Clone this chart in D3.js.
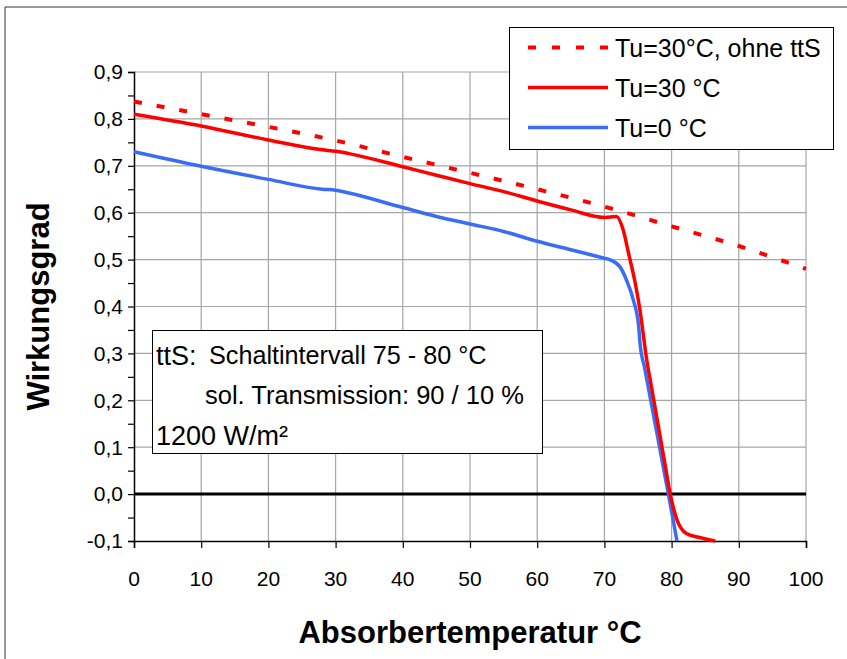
<!DOCTYPE html>
<html><head><meta charset="utf-8">
<script src="https://cdn.jsdelivr.net/npm/d3@7"></script>
<style>
html,body{margin:0;padding:0;background:#fff;}
text{font-family:"Liberation Sans",Arial,sans-serif;fill:#000;}
</style></head>
<body>
<svg id="chart" width="847" height="659"></svg>
<script>
// ---- data ----
const xTickValues = [0,10,20,30,40,50,60,70,80,90,100];
const xTickLabels = ["0","10","20","30","40","50","60","70","80","90","100"];
const yTickValues = [-0.1,0,0.1,0.2,0.3,0.4,0.5,0.6,0.7,0.8,0.9];
const yTickLabels = ["-0,1","0,0","0,1","0,2","0,3","0,4","0,5","0,6","0,7","0,8","0,9"];

const seriesNames = ["Tu=30°C, ohne ttS","Tu=30 °C","Tu=0 °C"];

const dashedT = [0,10,20,30,40,50,60,70,80,90,100];
const dashedEta = [0.837,0.810,0.783,0.754,0.719,0.685,0.650,0.613,0.571,0.529,0.480];

const red30T = [0,10,20,28,30,32,40,45,50,55,60,65,70,71.8,72.8,73.6,74.6,75.3,76.3,77,78,79,79.8,80.8,82.2,84,86.5];
const red30Eta = [0.810,0.785,0.755,0.734,0.731,0.726,0.698,0.680,0.662,0.645,0.625,0.606,0.590,0.592,0.563,0.513,0.449,0.392,0.286,0.229,0.147,0.065,0.0,-0.055,-0.084,-0.092,-0.100];

const blue0T = [0,10,20,28,30,32,40,45,50,55,60,65,70,70.8,72.3,73.3,74.3,75.1,75.3,76,77,78,79,79.5,80.8];
const blue0Eta = [0.730,0.699,0.671,0.650,0.648,0.642,0.611,0.592,0.576,0.560,0.539,0.521,0.503,0.500,0.485,0.456,0.414,0.357,0.322,0.268,0.192,0.116,0.040,0.002,-0.100];

const annotation = {l1a:"ttS:", l1b:"Schaltintervall 75 - 80 °C", l2:"sol. Transmission: 90 / 10 %", l3:"1200 W/m²"};

// ---- layout ----
const svg = d3.select("#chart");
const L=134, R=806, T=72, B=541;
const x = d3.scaleLinear().domain([0,100]).range([L,R]);
const y = d3.scaleLinear().domain([-0.1,0.9]).range([B,T]);

// outer frame (top & left visible)
svg.append("path").attr("d","M5,659 V7 H847").attr("fill","none").attr("stroke","#333").attr("stroke-width",1);

// gridlines
const grid = svg.append("g");
grid.selectAll(".vg").data(xTickValues.slice(1)).join("line")
  .attr("x1",d=>x(d)).attr("x2",d=>x(d)).attr("y1",T).attr("y2",B)
  .attr("stroke","#a6a6a6").attr("stroke-width",1.2);
grid.selectAll(".hg").data(yTickValues.slice(1)).join("line")
  .attr("x1",L).attr("x2",R).attr("y1",d=>y(d)).attr("y2",d=>y(d))
  .attr("stroke","#a6a6a6").attr("stroke-width",1.2);

// axes
const yMinor = d3.range(-0.1,0.9001,0.05);
const yAxis = d3.axisLeft(y).tickValues(yMinor).tickSize(6).tickFormat("");
const gy = svg.append("g").attr("transform",`translate(${L},0)`).call(yAxis);
gy.select(".domain").attr("stroke","#000").attr("stroke-width",1.5);
gy.selectAll(".tick line").attr("stroke","#000").attr("stroke-width",1.2);
svg.append("g").selectAll("text").data(yTickValues).join("text")
  .attr("x",L-11).attr("y",d=>y(d)).attr("dy","0.35em").attr("text-anchor","end")
  .attr("font-size",21).text((d,i)=>yTickLabels[i]);

const xAxis = d3.axisBottom(x).tickValues(xTickValues).tickSize(7).tickFormat("");
const gx = svg.append("g").attr("transform",`translate(0,${B})`).call(xAxis);
gx.select(".domain").attr("stroke","#000").attr("stroke-width",1.5);
gx.selectAll(".tick line").attr("stroke","#000").attr("stroke-width",1.2);
svg.append("g").selectAll("text").data(xTickValues).join("text")
  .attr("x",d=>x(d)).attr("y",B+45).attr("text-anchor","middle")
  .attr("font-size",21).text((d,i)=>xTickLabels[i]);

// zero line
svg.append("line").attr("x1",L).attr("x2",R).attr("y1",y(0)).attr("y2",y(0))
  .attr("stroke","#000").attr("stroke-width",3);

// axis titles
svg.append("text").attr("x",(L+R)/2).attr("y",643).attr("text-anchor","middle")
  .attr("font-size",31).attr("font-weight","bold").text("Absorbertemperatur °C");
svg.append("text").attr("transform",`translate(49,${(T+B)/2}) rotate(-90)`).attr("text-anchor","middle")
  .attr("font-size",31).attr("font-weight","bold").text("Wirkungsgrad");

// lines
const line = d3.line().x(d=>x(d[0])).y(d=>y(d[1])).curve(d3.curveMonotoneX);
const zip = (a,b)=>a.map((v,i)=>[v,b[i]]);
const plot = svg.append("g");
plot.append("path").datum(zip(blue0T,blue0Eta)).attr("d",line)
  .attr("fill","none").attr("stroke","#3a6cf4").attr("stroke-width",3.5).attr("stroke-linejoin","round");
plot.append("path").datum(zip(red30T,red30Eta)).attr("d",line)
  .attr("fill","none").attr("stroke","#ff0000").attr("stroke-width",3.5).attr("stroke-linejoin","round");
plot.append("path").datum(zip(dashedT,dashedEta)).attr("d",line)
  .attr("fill","none").attr("stroke","#ff0000").attr("stroke-width",4).attr("stroke-dasharray","8,15");

// legend
const lg = svg.append("g");
lg.append("rect").attr("x",509.5).attr("y",27.5).attr("width",324).attr("height",122)
  .attr("fill","#fff").attr("stroke","#000").attr("stroke-width",1);
const legStyles = [
  {c:"#ff0000",w:4,dash:"8,16"},
  {c:"#ff0000",w:3.5,dash:null},
  {c:"#3a6cf4",w:3.5,dash:null}
];
seriesNames.forEach((n,i)=>{
  const yy = 47.5 + i*40;
  lg.append("line").attr("x1",528).attr("x2",608).attr("y1",yy).attr("y2",yy)
    .attr("stroke",legStyles[i].c).attr("stroke-width",legStyles[i].w)
    .attr("stroke-dasharray",legStyles[i].dash);
  lg.append("text").attr("x",615).attr("y",yy).attr("dy","0.36em").attr("font-size",25).text(n);
});

// annotation box
const ab = svg.append("g");
ab.append("rect").attr("x",152.5).attr("y",330.5).attr("width",390).attr("height",123)
  .attr("fill","#fff").attr("stroke","#000").attr("stroke-width",1);
ab.append("text").attr("x",156).attr("y",365).attr("font-size",27).text(annotation.l1a);
ab.append("text").attr("x",209).attr("y",364).attr("font-size",25.2).text(annotation.l1b);
ab.append("text").attr("x",205).attr("y",404).attr("font-size",25.5).text(annotation.l2);
ab.append("text").attr("x",156).attr("y",445).attr("font-size",27).text(annotation.l3);
</script>
</body></html>
